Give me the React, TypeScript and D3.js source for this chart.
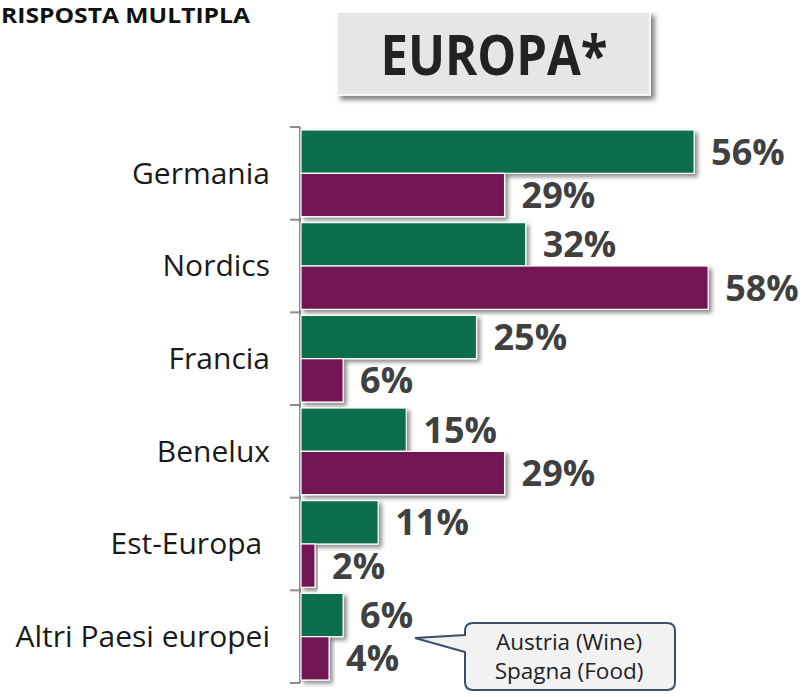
import React from "react";
import * as d3 from "d3";

const categories = ["Germania", "Nordics", "Francia", "Benelux", "Est-Europa ", "Altri Paesi europei"];
const seriesKeys = ["green", "purple"];
const greenValues = [56, 32, 25, 15, 11, 6];
const purpleValues = [29, 58, 6, 29, 2, 4];
const calloutLines = ["Austria (Wine)", "Spagna (Food)"];

const W = 808;
const H = 697;
const colors: Record<string, string> = { green: "#0b6e4c", purple: "#721652" };

export default function App() {
  const y = d3.scaleBand<string>().domain(categories).range([127, 683]).paddingInner(0).paddingOuter(0);
  const inner = d3.scaleBand<string>().domain(seriesKeys).range([3, y.bandwidth() - 3]);
  const x = d3.scaleLinear().domain([0, 100]).range([301, 1003]);
  const font = "'Open Sans', 'Noto Sans', sans-serif";
  const valuesFor = (k: string) => (k === "green" ? greenValues : purpleValues);

  const edges = categories.map((c) => y(c)!).concat([y.range()[1]]);

  return (
    <svg width={W} height={H} style={{ position: "absolute", left: 0, top: 0 }} fontFamily={font}>
      <defs>
        <filter id="sh" x="-10%" y="-20%" width="130%" height="160%">
          <feDropShadow dx="3" dy="3" stdDeviation="2" floodColor="#000" floodOpacity="0.45" />
        </filter>
        <filter id="sh2" x="-10%" y="-20%" width="130%" height="160%">
          <feDropShadow dx="4" dy="4" stdDeviation="2.5" floodColor="#000" floodOpacity="0.5" />
        </filter>
      </defs>
      <rect x={0} y={0} width={W} height={H} fill="#fff" />
      <text x={1} y={23} fontSize={21} fontWeight={700} fill="#111" textLength={249} lengthAdjust="spacingAndGlyphs">
        RISPOSTA MULTIPLA
      </text>
      <rect x={337} y={12} width={313} height={83} fill="#e6e6e6" stroke="#fff" strokeWidth={1.5} filter="url(#sh2)" />
      <text x={494} y={75} textAnchor="middle" fontSize={56} fontWeight={700} fill="#222" textLength={227} lengthAdjust="spacingAndGlyphs">
        EUROPA*
      </text>

      {/* axis */}
      <line x1={300} x2={300} y1={edges[0]} y2={edges[edges.length - 1]} stroke="#8c8c8c" strokeWidth={2} />
      {edges.map((e, i) => (
        <line key={i} x1={290} x2={300} y1={e} y2={e} stroke="#8c8c8c" strokeWidth={2} />
      ))}

      {categories.map((c, i) => (
        <g key={c} transform={`translate(0,${y(c)})`}>
          <text x={270} y={y.bandwidth() / 2} dy="0.35em" textAnchor="end" fontSize={30} fill="#1a1a1a" style={{ whiteSpace: "pre" }} xmlSpace="preserve">
            {c}
          </text>
          {seriesKeys.map((k) => {
            const v = valuesFor(k)[i];
            const by = inner(k)!;
            const bh = inner.bandwidth();
            return (
              <g key={k}>
                <rect x={x(0)} y={by} width={x(v) - x(0)} height={bh} fill={colors[k]} stroke="#fff" strokeWidth={1.2} filter="url(#sh)" />
                <text x={x(v) + 17} y={by + bh / 2} dy="0.36em" fontSize={36} fontWeight={700} fill="#404040">
                  {v}%
                </text>
              </g>
            );
          })}
        </g>
      ))}

      {/* callout */}
      <path
        d="M473,623 H667 Q675,623 675,631 V682 Q675,690 667,690 H473 Q465,690 465,682 V652 L415,638 L465,635 V631 Q465,623 473,623 Z"
        fill="#f2f2f2"
        stroke="#3b4f66"
        strokeWidth={2}
      />
      {calloutLines.map((t, i) => (
        <text key={t} x={569} y={650 + i * 29} textAnchor="middle" fontSize={22.5} fill="#222">
          {t}
        </text>
      ))}
    </svg>
  );
}
